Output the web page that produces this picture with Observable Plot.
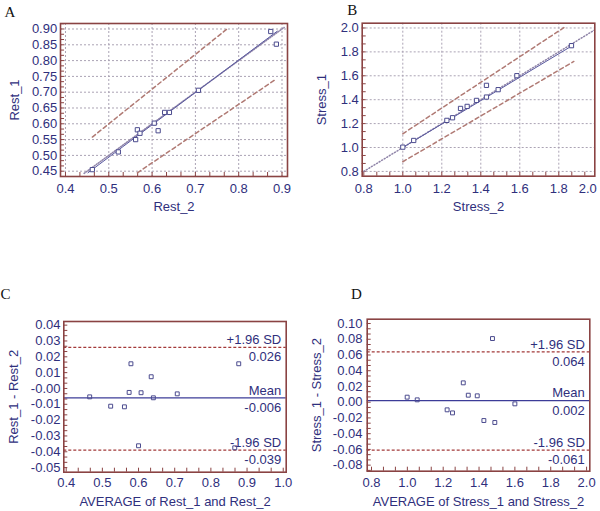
<!DOCTYPE html>
<html><head><meta charset="utf-8">
<script src="https://cdn.jsdelivr.net/npm/d3@7"></script>
<script src="https://cdn.jsdelivr.net/npm/@observablehq/plot@0.6"></script>
<style>
body{margin:0;background:#fff;}
#wrap{position:relative;width:600px;height:511px;overflow:hidden;}
.p{position:absolute;}
</style></head><body><div id="wrap"></div>
<script>
// ---------- Panel A: Rest_1 vs Rest_2 ----------
const rest2 = [0.462,0.522,0.562,0.566,0.572,0.605,0.614,0.629,0.640,0.707,0.874,0.887];
const rest1 = [0.455,0.511,0.550,0.581,0.570,0.602,0.578,0.636,0.636,0.706,0.892,0.852];
const aRegX = [0.452,0.889], aRegY = [0.445,0.893];
const aUpX = [0.462,0.773], aUpY = [0.558,0.900];
const aLoX = [0.566,0.887], aLoY = [0.445,0.742];
const aIdent = [0.443,0.905];
const aXTicks = [0.4,0.5,0.6,0.7,0.8,0.9];
const aXLabels = ["0.4","0.5","0.6","0.7","0.8","0.9"];
const aYTicks = [0.45,0.50,0.55,0.60,0.65,0.70,0.75,0.80,0.85,0.90];
const aYLabels = ["0.45","0.50","0.55","0.60","0.65","0.70","0.75","0.80","0.85","0.90"];

// ---------- Panel B: Stress_1 vs Stress_2 ----------
const stress2 = [1.000,1.056,1.226,1.255,1.296,1.330,1.378,1.429,1.429,1.489,1.585,1.865];
const stress1 = [1.003,1.059,1.227,1.249,1.327,1.344,1.394,1.520,1.422,1.484,1.601,1.852];
const bRegX = [1.0,1.87], bRegY = [1.0,1.853];
const bUpX = [1.0,1.826], bUpY = [1.115,2.003];
const bLoX = [1.0,1.877], bLoY = [0.881,1.720];
const bIdent = [0.8,2.0];
const bXTicks = [0.8,1.0,1.2,1.4,1.6,1.8,2.0];
const bXLabels = ["0.8","1.0","1.2","1.4","1.6","1.8","2.0"];
const bYTicks = [0.8,1.0,1.2,1.4,1.6,1.8,2.0];
const bYLabels = ["0.8","1.0","1.2","1.4","1.6","1.8","2.0"];

// ---------- Panel C: Bland-Altman Rest ----------
const cAvg  = [0.465,0.523,0.561,0.574,0.579,0.607,0.600,0.635,0.641,0.707,0.877,0.866];
const cDiff = [-0.0053,-0.0112,-0.0116,-0.0025,0.0156,-0.0027,-0.0362,0.0074,-0.0059,-0.0034,0.0156,-0.0375];
const cLines = [0.026,-0.006,-0.039];
const cTop = ["+1.96 SD","Mean","-1.96 SD"];
const cBottom = ["0.026","-0.006","-0.039"];
const cXTicks = [0.4,0.5,0.6,0.7,0.8,0.9,1.0];
const cXLabels = ["0.4","0.5","0.6","0.7","0.8","0.9","1.0"];
const cYTicks = [0.04,0.03,0.02,0.01,0,-0.01,-0.02,-0.03,-0.04,-0.05];
const cYLabels = ["0.04","0.03","0.02","0.01","-0.00","-0.01","-0.02","-0.03","-0.04","-0.05"];

// ---------- Panel D: Bland-Altman Stress ----------
const dAvg  = [0.999,1.055,1.222,1.252,1.312,1.340,1.390,1.427,1.475,1.488,1.600];
const dDiff = [0.0064,0.0030,-0.0097,-0.0136,0.0246,0.0089,0.0081,-0.0233,0.0809,-0.0258,-0.0021];
const dLines = [0.064,0.002,-0.061];
const dTop = ["+1.96 SD","Mean","-1.96 SD"];
const dBottom = ["0.064","0.002","-0.061"];
const dXTicks = [0.8,1.0,1.2,1.4,1.6,1.8,2.0];
const dXLabels = ["0.8","1.0","1.2","1.4","1.6","1.8","2.0"];
const dYTicks = [0.10,0.08,0.06,0.04,0.02,0,-0.02,-0.04,-0.06,-0.08];
const dYLabels = ["0.10","0.08","0.06","0.04","0.02","0.00","-0.02","-0.04","-0.06","-0.08"];

// ---------- styles ----------
const NAVY = "#2f2f7c";
const FRAME = "#8a4343";
const GRID = "#aba3b4";
const POINT = "#4b4b8e";
const REG = "#5a5aa0";
const IDENT = "#8f84a8";
const DASH = "#b07a74";
const SD = "#a33a3a";

function panel(o){
  const innerW = o.width - o.ml - o.mr, innerH = o.height - o.mt - o.mb;
  const marks = [];
  const xStep = o.xTicks[1]-o.xTicks[0], yStep = Math.abs(o.yTicks[1]-o.yTicks[0]);
  const xMinor = d3.range(o.xTicks[0]-xStep, o.xDomain[1]+1e-9, xStep/3).filter(v=>v>o.xDomain[0]&&v<o.xDomain[1]);
  const yMin0 = Math.min(...o.yTicks);
  const yMinor = d3.range(yMin0-yStep, o.yDomain[1]+1e-9, yStep/3).filter(v=>v>o.yDomain[0]&&v<o.yDomain[1]);
  if (o.grid){
    const gx = o.xTicks.filter(v=>v>o.xDomain[0]+0.01&&v<o.xDomain[1]);
    const gy = o.yTicks.filter(v=>v>o.yDomain[0]&&v<o.yDomain[1]);
    marks.push(Plot.ruleX(gx, {x:d=>d, stroke:GRID, strokeWidth:1, strokeDasharray:"2,2"}));
    marks.push(Plot.ruleY(gy, {y:d=>d, stroke:GRID, strokeWidth:1, strokeDasharray:"2,2"}));
  }
  // minor ticks inside frame
  marks.push(Plot.ruleX(xMinor, {x:d=>d, y1:o.yDomain[0], y2:o.yDomain[0]+(o.yDomain[1]-o.yDomain[0])*4/innerH, stroke:FRAME}));
  marks.push(Plot.ruleY(yMinor, {y:d=>d, x1:o.xDomain[0], x2:o.xDomain[0]+(o.xDomain[1]-o.xDomain[0])*4/innerW, stroke:FRAME}));
  marks.push(...o.marks);
  marks.push(Plot.frame({stroke:FRAME, strokeWidth:1.6}));
  const xl = new Map(o.xTicks.map((v,i)=>[v,o.xLabels[i]]));
  const yl = new Map(o.yTicks.map((v,i)=>[v,o.yLabels[i]]));
  const xMain = o.xLast ? o.xTicks.slice(0,-1) : o.xTicks;
  marks.push(Plot.axisX(xMain, {tickSize:0, tickPadding:o.xPad, tickFormat:d=>xl.get(d), fill:NAVY, fontSize:13, label:null}));
  if (o.xLast) marks.push(Plot.axisX([o.xTicks[o.xTicks.length-1]], {tickSize:0, tickPadding:o.xPad, tickFormat:d=>xl.get(d), fill:NAVY, fontSize:13, label:null, textAnchor:"end", dx:o.xLastDx}));
  marks.push(Plot.axisY(o.yTicks, {tickSize:0, tickPadding:o.yPad, tickFormat:d=>yl.get(d), fill:NAVY, fontSize:13, label:null}));
  marks.push(Plot.text([o.xLabel], {frameAnchor:"bottom", textAnchor:"middle", lineAnchor:"middle", dy:o.xTitleDy, fill:NAVY, fontSize:13}));
  marks.push(Plot.text([o.yLabel], {frameAnchor:"left", textAnchor:"middle", lineAnchor:"middle", rotate:-90, dx:o.yTitleDx, fill:NAVY, fontSize:13}));
  marks.push(Plot.text([o.letter], {frameAnchor:"top-left", textAnchor:"middle", lineAnchor:"middle", dx:o.letterDx, dy:o.letterDy, fill:"#111", fontSize:15, fontFamily:"Liberation Serif, Times New Roman, serif"}));
  return Plot.plot({
    width:o.width, height:o.height,
    marginLeft:o.ml, marginRight:o.mr, marginTop:o.mt, marginBottom:o.mb,
    x:{domain:o.xDomain, axis:null},
    y:{domain:o.yDomain, axis:null},
    style:{fontFamily:"Liberation Sans, Arial, sans-serif", fontSize:"13px", background:"transparent", overflow:"visible"},
    marks
  });
}

function seg(xs, ys, opts){ return Plot.line(xs, {x:d=>d, y:(d,i)=>ys[i], ...opts}); }

const A = panel({
  width:300, height:260, ml:60, mr:13, mt:23, mb:84,
  xDomain:[0.3885,0.9127], yDomain:[0.4332,0.9174], grid:true,
  xTicks:aXTicks, xLabels:aXLabels, yTicks:aYTicks, yLabels:aYLabels,
  xPad:7, yPad:3.3, xTitleDy:30.7, yTitleDx:-46, xLabel:"Rest_2", yLabel:"Rest_1",
  letter:"A", letterDx:-50.7, letterDy:-11.8,
  marks:[
    Plot.line(aIdent, {x:d=>d, y:d=>d, stroke:IDENT, strokeDasharray:"1,1.5", clip:true}),
    seg(aRegX, aRegY, {stroke:REG, strokeWidth:1}),
    seg(aUpX, aUpY, {stroke:DASH, strokeDasharray:"4,3"}),
    seg(aLoX, aLoY, {stroke:DASH, strokeDasharray:"4,3"}),
    Plot.dot(rest2, {x:d=>d, y:(d,i)=>rest1[i], symbol:"square", r:2.4, stroke:POINT, fill:"white", strokeWidth:1})
  ]
});
const B = panel({
  width:300, height:260, ml:61.7, mr:5.7, mt:22.7, mb:84.3,
  xDomain:[0.7918,1.9846], yDomain:[0.760,2.040], grid:true,
  xTicks:bXTicks, xLabels:bXLabels, yTicks:bYTicks, yLabels:bYLabels, xLast:true, xLastDx:-1,
  xPad:7.4, yPad:3.4, xTitleDy:31, yTitleDx:-40, xLabel:"Stress_2", yLabel:"Stress_1",
  letter:"B", letterDx:-10, letterDy:-13.5,
  marks:[
    Plot.line(bIdent, {x:d=>d, y:d=>d, stroke:IDENT, strokeDasharray:"1,2", clip:true}),
    seg(bRegX, bRegY, {stroke:REG, strokeWidth:1}),
    seg(bUpX, bUpY, {stroke:DASH, strokeDasharray:"4,3"}),
    seg(bLoX, bLoY, {stroke:DASH, strokeDasharray:"4,3"}),
    Plot.dot(stress2, {x:d=>d, y:(d,i)=>stress1[i], symbol:"square", r:2.4, stroke:POINT, fill:"white", strokeWidth:1})
  ]
});
function baMarks(lines, top, bottom, xMax, avg, diff){
  return [
    Plot.ruleY([lines[0],lines[2]], {y:d=>d, stroke:SD, strokeWidth:1.2, strokeDasharray:"3,2"}),
    Plot.ruleY([lines[1]], {y:d=>d, stroke:"#3c3c98", strokeWidth:1.2}),
    Plot.text(lines, {x:()=>xMax, y:d=>d, text:(d,i)=>top[i], textAnchor:"end", dx:-5, dy:-7.5, fill:NAVY, fontSize:13}),
    Plot.text(lines, {x:()=>xMax, y:d=>d, text:(d,i)=>bottom[i], textAnchor:"end", dx:-5, dy:10, fill:NAVY, fontSize:13}),
    Plot.dot(avg, {x:d=>d, y:(d,i)=>diff[i], symbol:"square", r:2.2, stroke:POINT, fill:"none", strokeWidth:1})
  ];
}
const C = panel({
  width:300, height:251, ml:63.3, mr:14.3, mt:61, mb:39.3,
  xDomain:[0.3934,1.0082], yDomain:[-0.0529,0.0423], grid:false,
  xTicks:cXTicks, xLabels:cXLabels, yTicks:cYTicks, yLabels:cYLabels,
  xPad:5.4, yPad:3.3, xTitleDy:30, yTitleDx:-50, xLabel:"AVERAGE of Rest_1 and Rest_2", yLabel:"Rest_1 - Rest_2",
  letter:"C", letterDx:-58.3, letterDy:-27.7,
  marks: baMarks(cLines, cTop, cBottom, 1.0082, cAvg, cDiff)
});
const D = panel({
  width:300, height:251, ml:66.7, mr:10.7, mt:58.7, mb:40.3,
  xDomain:[0.776,2.018], yDomain:[-0.0877,0.1055], grid:false,
  xTicks:dXTicks, xLabels:dXLabels, yTicks:dYTicks, yLabels:dYLabels,
  xPad:6.4, yPad:4.7, xTitleDy:31, yTitleDx:-50.7, xLabel:"AVERAGE of Stress_1 and Stress_2", yLabel:"Stress_1 - Stress_2",
  letter:"D", letterDx:-10.7, letterDy:-25.4,
  marks: baMarks(dLines, dTop, dBottom, 2.018, dAvg, dDiff)
});

const wrap = document.getElementById("wrap");
[[A,0,0],[B,300,0],[C,0,260],[D,300,260]].forEach(([el,l,t])=>{
  el.classList.add("p"); el.style.left=l+"px"; el.style.top=t+"px"; wrap.appendChild(el);
});
</script>
</body></html>
